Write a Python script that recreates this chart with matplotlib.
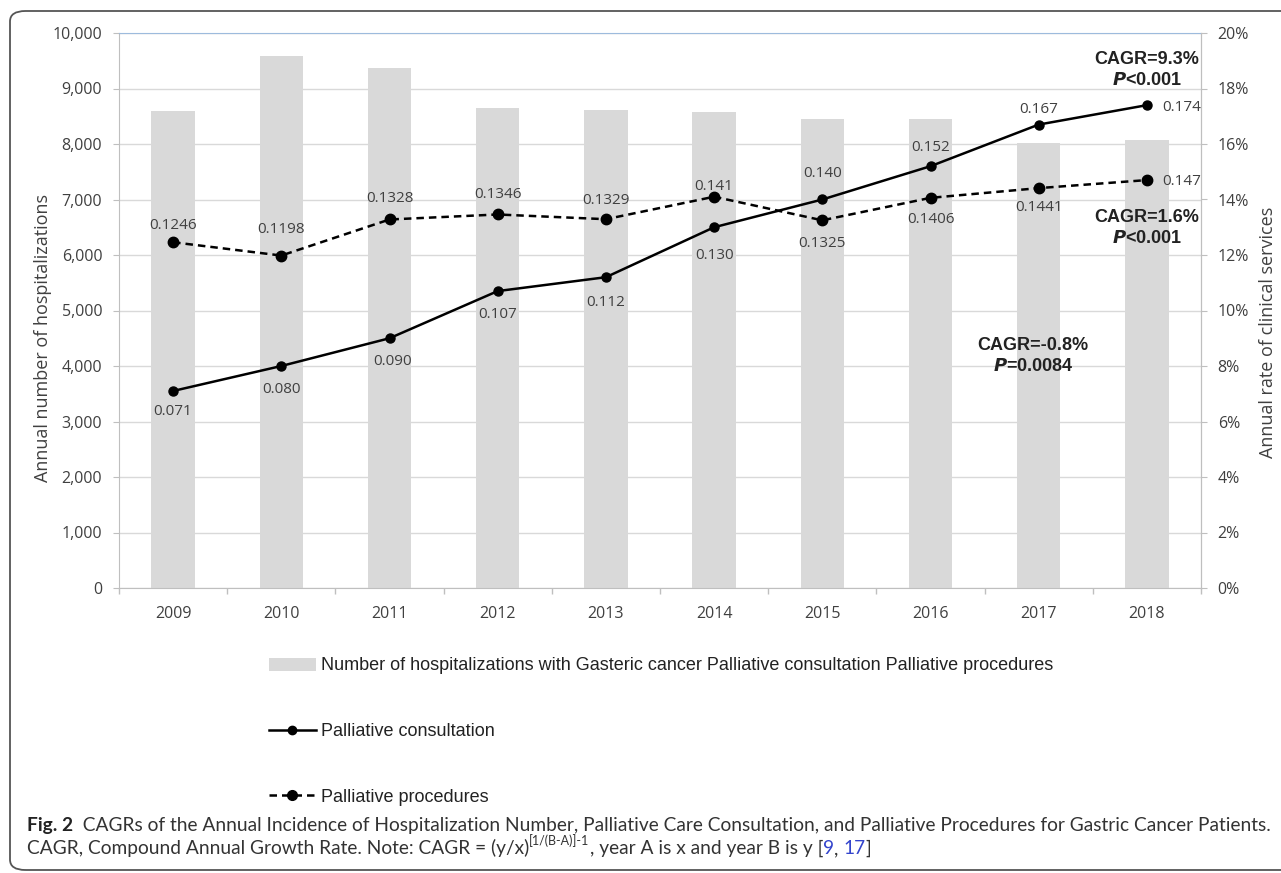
import matplotlib.pyplot as plt
import numpy as np
from matplotlib.lines import Line2D
from matplotlib.patches import Patch, FancyBboxPatch

years = ['2009', '2010', '2011', '2012', '2013', '2014', '2015', '2016', '2017', '2018']
hospitalizations = [8600, 9580, 9370, 8650, 8610, 8580, 8450, 8450, 8020, 8070]
consultation = [0.071, 0.080, 0.090, 0.107, 0.112, 0.130, 0.140, 0.152, 0.167, 0.174]
procedures = [0.1246, 0.1198, 0.1328, 0.1346, 0.1329, 0.141, 0.1325, 0.1406, 0.1441, 0.147]
consultation_labels = ['0.071', '0.080', '0.090', '0.107', '0.112', '0.130', '0.140', '0.152', '0.167', '0.174']
procedures_labels = ['0.1246', '0.1198', '0.1328', '0.1346', '0.1329', '0.141', '0.1325', '0.1406', '0.1441', '0.147']

# label offsets in pixels (dx, dy)
cons_off = [(0, -21), (0, -23), (3, -23), (0, -23), (0, -25), (0, -28), (0, 26), (0, 19), (0, 15), (35, -2)]
proc_off = [(0, 17), (0, 26), (0, 21), (0, 20), (0, 19), (0, 10), (0, -23), (0, -22), (0, -19), (35, -1)]

TXT = '#404040'
GRID = '#D9D9D9'
SPINE = '#BFBFBF'

fig = plt.figure(figsize=(12.81, 8.73), dpi=100)
W, H = 1281, 873

# outer rounded frame
frame = FancyBboxPatch((10 / W, 3 / H), 1.2, (870 - 11) / H,
                       boxstyle='round,pad=0,rounding_size=0.012',
                       transform=fig.transFigure, fill=False,
                       edgecolor='#555555', linewidth=1.3)
fig.patches.append(frame)

ax = fig.add_axes([119 / W, 1 - 588 / H, (1201 - 119) / W, (588 - 33) / H])
x = np.arange(len(years))
ax.bar(x, hospitalizations, width=0.4, color='#D9D9D9', zorder=2)
ax.set_xlim(-0.5, len(years) - 0.5)
ax.set_ylim(0, 10000)
ax.set_yticks(np.arange(0, 10001, 1000))
ax.set_yticklabels(['{:,}'.format(v) for v in range(0, 10001, 1000)])
ax.yaxis.grid(True, color=GRID, linewidth=1, zorder=0)
ax.set_axisbelow(True)
ax.set_xticks(x)
ax.set_xticklabels(years)
ax.set_xticks(np.arange(-0.5, len(years), 1), minor=True)
ax.tick_params(axis='x', which='major', length=0, pad=13, labelsize=11.5, labelcolor=TXT)
ax.tick_params(axis='x', which='minor', length=4, color=SPINE, width=1)
ax.tick_params(axis='y', length=4, color=SPINE, pad=8, labelsize=11.5, labelcolor=TXT)
for lab in ax.get_xticklabels() + ax.get_yticklabels():
    lab.set_family('Open Sans')
for s in ['left', 'right', 'bottom']:
    ax.spines[s].set_color(SPINE)
ax.spines['top'].set_color('#9DBBDD')
ax.set_ylabel('Annual number of hospitalizations', fontsize=13, color=TXT,
              family='Open Sans')
ax.yaxis.set_label_coords(-0.062, 0.45)

ax2 = ax.twinx()
ax2.set_ylim(0, 0.20)
ax2.set_yticks(np.arange(0, 0.201, 0.02))
ax2.set_yticklabels(['{}%'.format(v) for v in range(0, 21, 2)])
ax2.tick_params(axis='y', length=4, color=SPINE, pad=8, labelsize=11.5, labelcolor=TXT)
for lab in ax2.get_yticklabels():
    lab.set_family('Open Sans')
for s in ['left', 'top', 'bottom']:
    ax2.spines[s].set_visible(False)
ax2.spines['right'].set_color(SPINE)
ax2.set_ylabel('Annual rate of clinical services', fontsize=13, color=TXT,
               family='Open Sans')
ax2.yaxis.set_label_coords(1.054, 0.46)

ax2.plot(x, consultation, color='black', linewidth=1.8, marker='o', markersize=6.5, zorder=3)
ax2.plot(x, procedures, color='black', linewidth=1.8, dashes=(3, 2), marker='o',
         markersize=7.5, zorder=3)

for i in range(len(years)):
    dx, dy = cons_off[i]
    ax2.annotate(consultation_labels[i], (x[i], consultation[i]), xytext=(dx, dy),
                 textcoords='offset pixels', ha='center', va='center', fontsize=11,
                 color=TXT, family='Open Sans')
    dx, dy = proc_off[i]
    ax2.annotate(procedures_labels[i], (x[i], procedures[i]), xytext=(dx, dy),
                 textcoords='offset pixels', ha='center', va='center', fontsize=11,
                 color=TXT, family='Open Sans')


# CAGR notes
def cagr_note(xd, yd, line1, line2):
    ax2.text(xd, yd, line1, ha='center', va='center', fontsize=13, fontweight='bold',
             family='Liberation Sans', color='#222222')
    ax2.annotate(line2, (xd, yd), xytext=(0, -21), textcoords='offset pixels',
                 ha='center', va='center', fontsize=13, fontweight='bold',
                 family='Liberation Sans', color='#222222')


cagr_note(9, 0.1905, 'CAGR=9.3%', r'$\mathbfit{P}$<0.001')
cagr_note(9, 0.1335, 'CAGR=1.6%', r'$\mathbfit{P}$<0.001')
cagr_note(7.95, 0.0875, 'CAGR=-0.8%', r'$\mathbfit{P}$=0.0084')

# legends stacked under the chart
leg_kw = dict(frameon=False, loc='center left', borderpad=0, borderaxespad=0,
              handlelength=2.6, handletextpad=0.3,
              prop={'family': 'Liberation Sans', 'size': 13})
h1 = Patch(facecolor='#D9D9D9', edgecolor='none')
h2 = Line2D([], [], color='black', linewidth=1.8, marker='o', markersize=6)
h3 = Line2D([], [], color='black', linewidth=1.8, dashes=(3, 2), marker='o', markersize=7)
l1 = fig.legend([h1], ['Number of hospitalizations with Gasteric cancer Palliative consultation Palliative procedures'],
                bbox_to_anchor=(269 / W, 1 - 666 / H), **leg_kw)
l2 = fig.legend([h2], ['Palliative consultation'], bbox_to_anchor=(269 / W, 1 - 732 / H), **leg_kw)
l3 = fig.legend([h3], ['Palliative procedures'], bbox_to_anchor=(269 / W, 1 - 797 / H), **leg_kw)
for lg in (l1, l2, l3):
    for t in lg.get_texts():
        t.set_color('#222222')

# caption
cap_font = 'Lato'
cap_size = 13.8
cap_col = '#333333'
t0 = fig.text(27 / W, 1 - 825 / H, 'Fig. 2', fontsize=cap_size, fontweight='bold',
              family=cap_font, color='#222222', va='center')
t1 = plt.annotate('  CAGRs of the Annual Incidence of Hospitalization Number, Palliative Care Consultation, '
                  'and Palliative Procedures for Gastric Cancer Patients.',
                  xy=(1, 0), xycoords=t0, va='bottom', ha='left', fontsize=cap_size,
                  family=cap_font, color=cap_col, annotation_clip=False)
s0 = fig.text(27 / W, 1 - 848 / H, 'CAGR, Compound Annual Growth Rate. Note: CAGR = (y/x)',
              fontsize=cap_size, family=cap_font, color=cap_col, va='center')
s1 = plt.annotate('[1/(B-A)]-1', xy=(1, 0.55), xycoords=s0, va='bottom', ha='left',
                  fontsize=9, family=cap_font, color=cap_col, annotation_clip=False)
s2 = plt.annotate(', year A is x and year B is y [', xy=(1, 0), xycoords=(s1, s0),
                  va='bottom', ha='left', fontsize=cap_size, family=cap_font, color=cap_col,
                  annotation_clip=False)
s3 = plt.annotate('9', xy=(1, 0), xycoords=s2, va='bottom', ha='left', fontsize=cap_size,
                  family=cap_font, color='#3344CC', annotation_clip=False)
s4 = plt.annotate(', ', xy=(1, 0), xycoords=s3, va='bottom', ha='left', fontsize=cap_size,
                  family=cap_font, color=cap_col, annotation_clip=False)
s5 = plt.annotate('17', xy=(1, 0), xycoords=s4, va='bottom', ha='left', fontsize=cap_size,
                  family=cap_font, color='#3344CC', annotation_clip=False)
s6 = plt.annotate(']', xy=(1, 0), xycoords=s5, va='bottom', ha='left', fontsize=cap_size,
                  family=cap_font, color=cap_col, annotation_clip=False)

fig.savefig('out.png', dpi=100)
